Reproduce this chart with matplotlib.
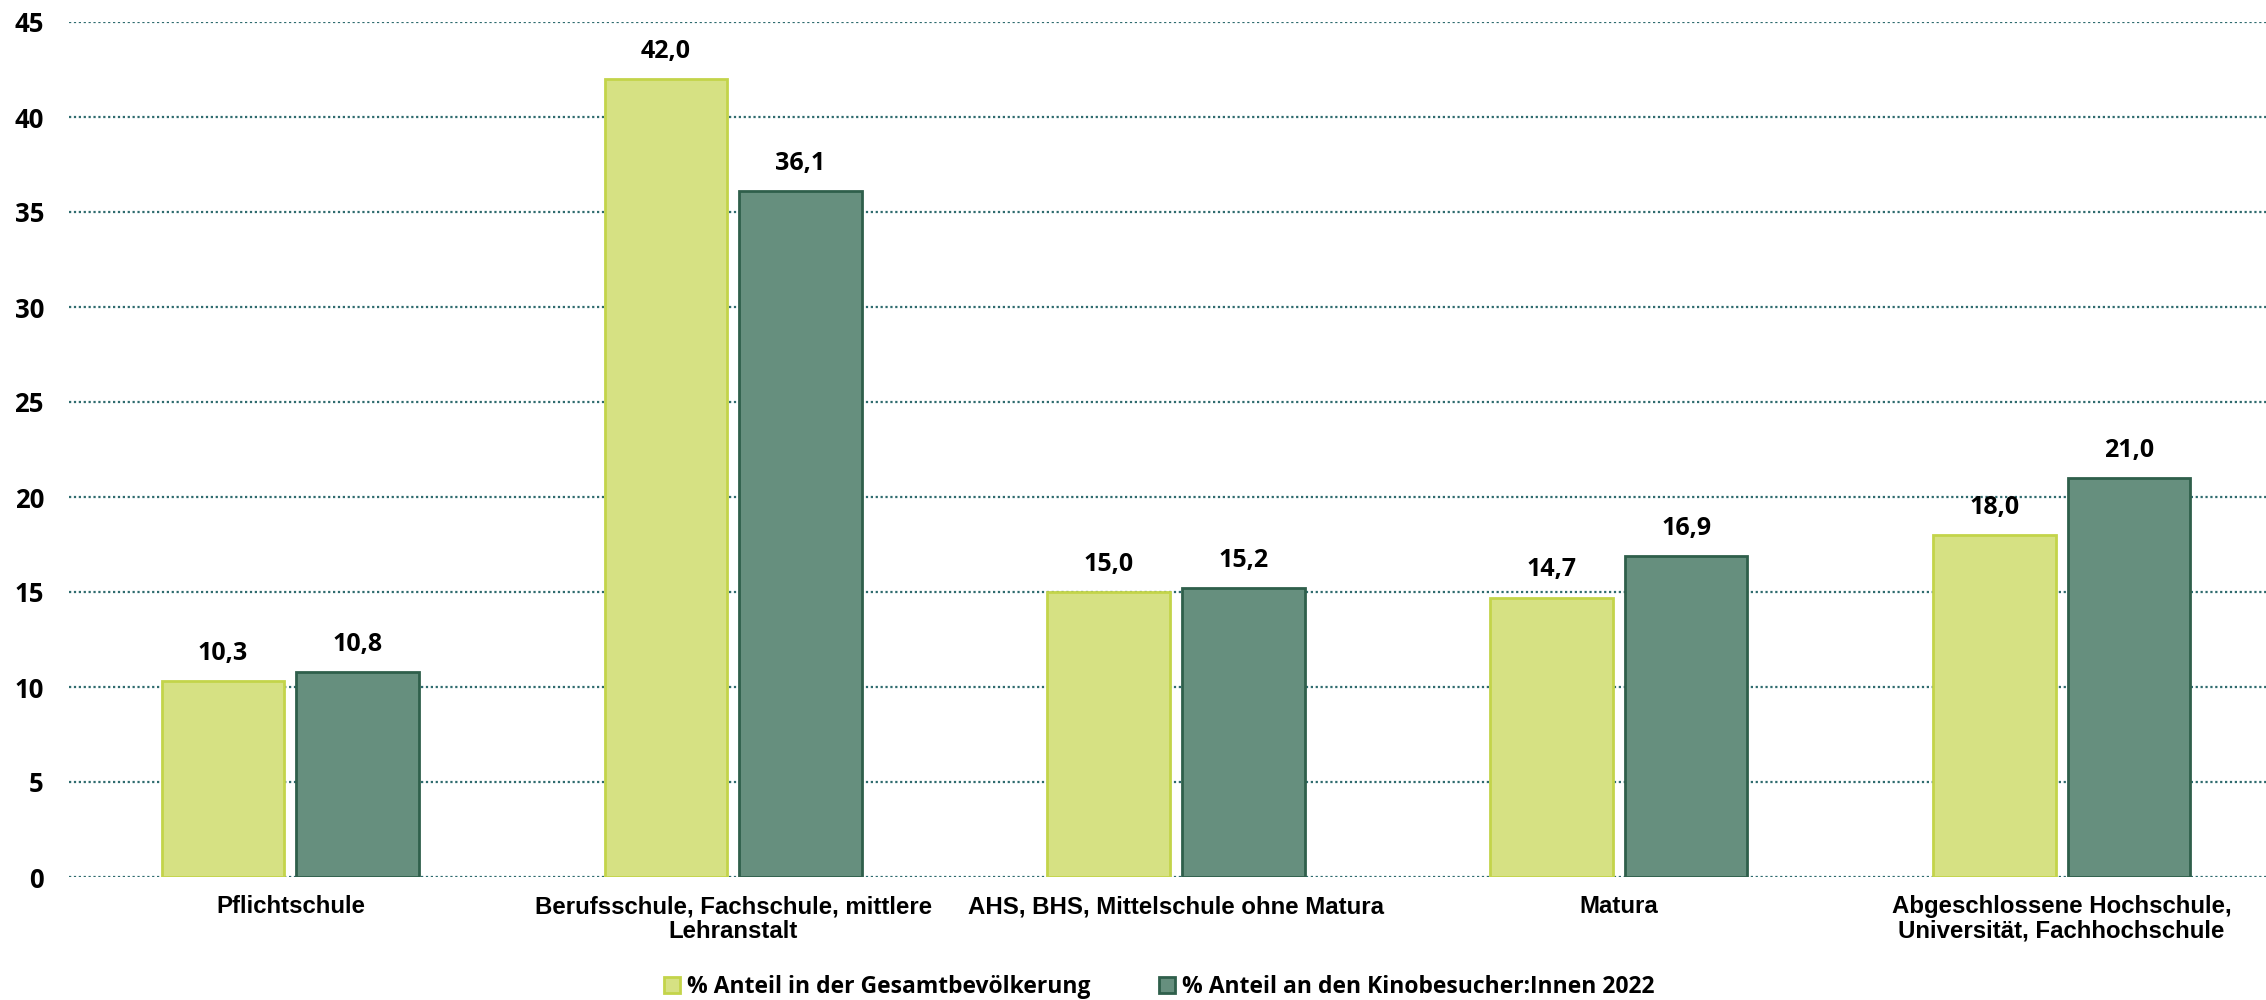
import matplotlib
matplotlib.use("Agg")
import matplotlib.pyplot as plt
import numpy as np
from matplotlib.patches import Patch

categories = ["Pflichtschule",
              "Berufsschule, Fachschule, mittlere\nLehranstalt",
              "AHS, BHS, Mittelschule ohne Matura",
              "Matura",
              "Abgeschlossene Hochschule,\nUniversität, Fachhochschule"]
gesamt = [10.3, 42.0, 15.0, 14.7, 18.0]
kino = [10.8, 36.1, 15.2, 16.9, 21.0]
series_names = ["% Anteil in der Gesamtbevölkerung", "% Anteil an den Kinobesucher:Innen 2022"]
yticks = [0, 5, 10, 15, 20, 25, 30, 35, 40, 45]

light_fill, light_edge = "#D6E183", "#C3D44A"
dark_fill, dark_edge = "#668F7E", "#2F5F4B"
grid_col = "#2E6B6E"

fig = plt.figure(figsize=(22.66, 10), dpi=100)
ax = fig.add_axes([69/2266, 0.123, (2283-69)/2266, 0.855])

x = np.arange(len(categories))
w = 0.277
off = 0.152
b1 = ax.bar(x - off, gesamt, w, color=light_fill, edgecolor=light_edge, linewidth=2, zorder=3)
b2 = ax.bar(x + off, kino, w, color=dark_fill, edgecolor=dark_edge, linewidth=2, zorder=3)

for bars, vals in ((b1, gesamt), (b2, kino)):
    for r, v in zip(bars, vals):
        ax.annotate(f"{v:.1f}".replace(".", ","), (r.get_x() + r.get_width()/2, v),
                    xytext=(0, 11), textcoords="offset points", ha="center", va="bottom",
                    fontsize=18, fontweight="bold", family="Open Sans", color="black")

ax.set_xlim(-0.5, len(categories) - 0.5)
ax.set_ylim(0, 45)
ax.set_yticks(yticks)
ax.set_yticklabels([str(t) for t in yticks], fontsize=18.5, fontweight="bold", family="Open Sans")
ax.set_xticks(x)
ax.set_xticklabels(categories, fontsize=17.3, fontweight="bold", family="Liberation Sans",
                   linespacing=1.1)
ax.tick_params(axis="both", length=0)
ax.tick_params(axis="y", pad=18)
ax.tick_params(axis="x", pad=13)
for s in ax.spines.values():
    s.set_visible(False)
ax.yaxis.grid(True, linestyle=(0, (1, 1.2)), color=grid_col, linewidth=1.6, zorder=0)
ax.set_axisbelow(True)

handles = [Patch(facecolor=light_fill, edgecolor=light_edge, linewidth=2),
           Patch(facecolor=dark_fill, edgecolor=dark_edge, linewidth=2)]
fig.legend(handles, series_names, loc="center", bbox_to_anchor=(1159/2266, 0.013),
           ncol=2, frameon=False, prop={"family": "Open Sans", "weight": "bold", "size": 16.5},
           handlelength=0.7, handleheight=0.7, handletextpad=0.3, columnspacing=3.0)

fig.savefig("out.png", dpi=100)
